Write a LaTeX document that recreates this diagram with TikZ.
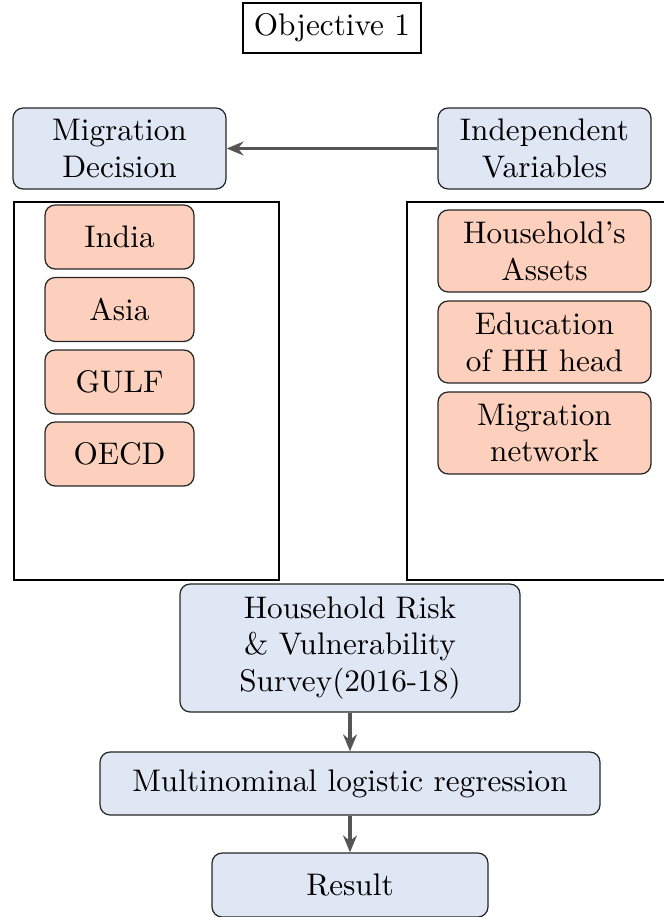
\documentclass[tikz,border=0pt]{standalone}
\usetikzlibrary{arrows.meta}
\definecolor{boxblue}{RGB}{223,230,244}
\definecolor{boxorange}{RGB}{252,208,189}
\definecolor{linegray}{RGB}{85,85,85}
\tikzset{
  px/.style={x=0.325pt,y=-0.325pt},
  bluebox/.style={draw=black!85,fill=boxblue,rounded corners=3.3pt,align=center,inner sep=0pt,line width=0.4pt},
  orangebox/.style={draw=black!85,fill=boxorange,rounded corners=3.3pt,align=center,inner sep=0pt,line width=0.4pt},
  plainbox/.style={draw=black,inner sep=0pt,line width=0.4pt},
  flowarrow/.style={draw=linegray,line width=1pt,-{Stealth[length=5.5pt,width=4.5pt]}},
}
\begin{document}
\begin{tikzpicture}[px,font=\fontsize{10.15}{12}\selectfont]
  \useasboundingbox (0,0) rectangle (664,917);

  % title
  \node[plainbox,minimum width=178*0.325pt,minimum height=50*0.325pt] (obj) at (332,28) {Objective 1};

  % top row
  \node[bluebox,minimum width=213*0.325pt,minimum height=81*0.325pt] (md) at (119.5,148.5) {Migration\\Decision};
  \node[bluebox,minimum width=213*0.325pt,minimum height=81*0.325pt] (iv) at (544.5,148.5) {Independent\\Variables};
  \draw[flowarrow] (iv.west) -- (md.east);

  % containers
  \draw[line width=0.4pt] (14,202) rectangle (279,580);
  \draw[line width=0.4pt] (668,202) -- (407,202) -- (407,580) -- (668,580);

  % destinations
  \node[orangebox,minimum width=149*0.325pt,minimum height=64*0.325pt] (india) at (119.5,237) {India};
  \node[orangebox,minimum width=149*0.325pt,minimum height=64*0.325pt] (asia) at (119.5,309.5) {Asia};
  \node[orangebox,minimum width=149*0.325pt,minimum height=64*0.325pt] (gulf) at (119.5,382) {GULF};
  \node[orangebox,minimum width=149*0.325pt,minimum height=64*0.325pt] (oecd) at (119.5,454) {OECD};

  % explanatory variables
  \node[orangebox,minimum width=213*0.325pt,minimum height=82*0.325pt] (assets) at (544.5,251) {Household's\\Assets};
  \node[orangebox,minimum width=213*0.325pt,minimum height=82*0.325pt] (educ) at (544.5,342) {Education\\of HH head};
  \node[orangebox,minimum width=213*0.325pt,minimum height=82*0.325pt] (netw) at (544.5,433) {Migration\\network};

  % method chain
  \node[bluebox,minimum width=340*0.325pt,minimum height=128*0.325pt] (survey) at (350,648) {Household Risk\\\& Vulnerability\\Survey(2016-18)};
  \node[bluebox,minimum width=500*0.325pt,minimum height=63*0.325pt] (mlr) at (350,783.5) {Multinominal logistic regression};
  \node[bluebox,minimum width=276*0.325pt,minimum height=64*0.325pt] (res) at (350,885) {Result};

  \draw[flowarrow] (survey) -- (mlr);
  \draw[flowarrow] (mlr) -- (res);
\end{tikzpicture}
\end{document}
